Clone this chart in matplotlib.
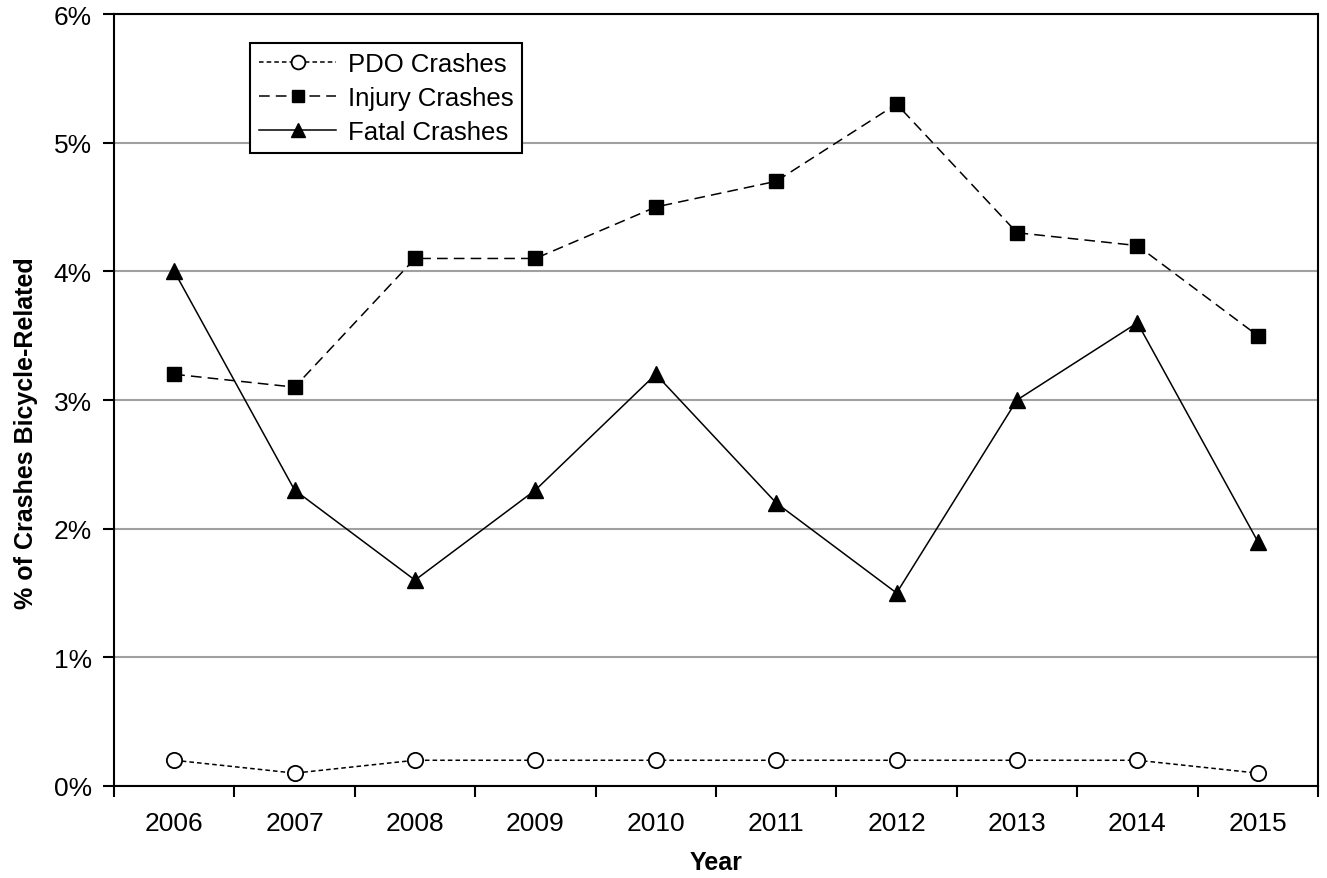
import matplotlib.pyplot as plt
from matplotlib.ticker import FuncFormatter, FixedLocator

plt.rcParams["font.family"] = ["Liberation Sans", "DejaVu Sans"]

years = ["2006", "2007", "2008", "2009", "2010", "2011", "2012", "2013", "2014", "2015"]
pdo = [0.2, 0.1, 0.2, 0.2, 0.2, 0.2, 0.2, 0.2, 0.2, 0.1]
injury = [3.2, 3.1, 4.1, 4.1, 4.5, 4.7, 5.3, 4.3, 4.2, 3.5]
fatal = [4.0, 2.3, 1.6, 2.3, 3.2, 2.2, 1.5, 3.0, 3.6, 1.9]

fig = plt.figure(figsize=(13.27, 8.79), dpi=100)
ax = fig.add_axes([114 / 1327, 1 - 787 / 879, (1318 - 114) / 1327, (787 - 15) / 879])

x = list(range(len(years)))
ax.plot(x, pdo, color="black", linestyle=(0, (3, 2)), linewidth=1.1, marker="o",
        markersize=11, markerfacecolor="white", markeredgecolor="black",
        markeredgewidth=1.3, label="PDO Crashes", zorder=3)
ax.plot(x, injury, color="black", linestyle=(0, (7, 4)), linewidth=1.1, marker="s",
        markersize=10, markerfacecolor="black", markeredgecolor="black",
        label="Injury Crashes", zorder=3)
ax.plot(x, fatal, color="black", linestyle="-", linewidth=1.1, marker="^",
        markersize=11, markerfacecolor="black", markeredgecolor="black",
        label="Fatal Crashes", zorder=3)

ax.set_xlim(-0.5, len(years) - 0.5)
ax.set_ylim(0, 6)
ax.set_xticks(x)
ax.set_xticklabels(years)
ax.xaxis.set_minor_locator(FixedLocator([i - 0.5 for i in range(len(years) + 1)]))
ax.tick_params(axis="x", which="major", length=0, pad=18, labelsize=19)
ax.tick_params(axis="x", which="minor", length=8, width=1.5, direction="out")
ax.set_yticks(range(0, 7))
ax.yaxis.set_major_formatter(FuncFormatter(lambda v, p: f"{v:.0f}%"))
ax.tick_params(axis="y", length=8, width=1.5, direction="out", labelsize=19, pad=8)

ax.grid(axis="y", color="#a0a0a0", linewidth=1.5)
ax.set_axisbelow(True)
for side in ["left", "bottom", "top", "right"]:
    ax.spines[side].set_linewidth(1.5)
    ax.spines[side].set_color("black")

ax.set_xlabel("Year", fontsize=18, fontweight="bold")
ax.xaxis.set_label_coords(0.5, -0.083)
ax.set_ylabel("% of Crashes Bicycle-Related", fontsize=18, fontweight="bold")
ax.yaxis.set_label_coords(-0.063, 0.4585)

leg = ax.legend(loc="upper left", bbox_to_anchor=(0.113, 0.962), fontsize=18.5,
                frameon=True, fancybox=False, edgecolor="black", handlelength=3.0,
                borderpad=0.35, labelspacing=0.38, handletextpad=0.45, borderaxespad=0,
                markerscale=0.9)
leg.get_frame().set_linewidth(1.5)
leg.get_frame().set_alpha(1)

fig.savefig("out.png", dpi=100)
